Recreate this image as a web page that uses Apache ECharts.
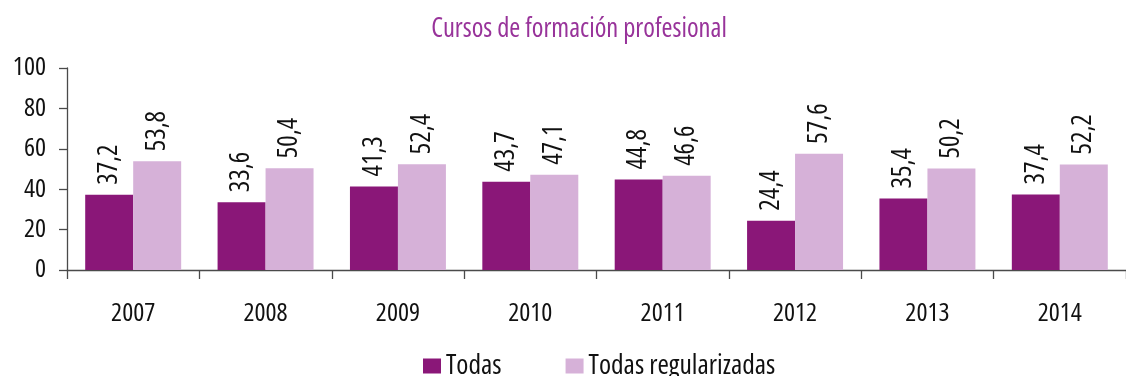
<!DOCTYPE html>
<html>
<head>
<meta charset="utf-8">
<script src="https://cdn.jsdelivr.net/npm/echarts@6/dist/echarts.min.js"></script>
<style>
  html, body { margin: 0; padding: 0; background: #fff; }
  #chart { width: 1126px; height: 376px; }
</style>
</head>
<body>
<div id="chart"></div>
<script>
// Cursos de formación profesional, 2007–2014
const years = ['2007', '2008', '2009', '2010', '2011', '2012', '2013', '2014'];
const todas = [37.2, 33.6, 41.3, 43.7, 44.8, 24.4, 35.4, 37.4];
const todasRegularizadas = [53.8, 50.4, 52.4, 47.1, 46.6, 57.6, 50.2, 52.2];
const yTicks = [0, 20, 40, 60, 80, 100];

// narrow type: ask for the condensed width of a family with a width axis
const FONT = '"Open Sans", sans-serif';
const STRETCH = 'condensed';
const comma = v => String(v).replace('.', ',');

const valueLabel = {
  show: true,
  position: 'top',
  rotate: 90,
  align: 'left',
  verticalAlign: 'middle',
  distance: 10,
  fontFamily: FONT,
  fontWeight: STRETCH,
  fontSize: 27,
  color: '#111',
  formatter: p => comma(p.value)
};

const chart = echarts.init(document.getElementById('chart'), null, { renderer: 'canvas' });
chart.setOption({
  animation: false,
  backgroundColor: '#fff',
  textStyle: { fontFamily: FONT, fontWeight: STRETCH },
  title: {
    text: 'Cursos de formación profesional',
    left: 574,
    top: 11,
    textAlign: 'center',
    textStyle: { fontFamily: FONT, fontSize: 26.5, fontWeight: STRETCH, color: '#98339a' }
  },
  legend: {
    top: 352,
    left: 423,
    padding: 0,
    itemWidth: 18,
    itemHeight: 15,
    itemGap: 64,
    icon: 'rect',
    textStyle: { fontFamily: FONT, fontWeight: STRETCH, fontSize: 27.5, lineHeight: 28, color: '#111' },
    data: ['Todas', 'Todas regularizadas']
  },
  grid: { left: 67, top: 68, width: 1072, height: 202 },
  xAxis: {
    type: 'category',
    data: years,
    axisLine: { show: true, lineStyle: { color: '#4a4a4a', width: 1.3 } },
    axisTick: { show: true, length: 9, alignWithLabel: false, lineStyle: { color: '#4a4a4a', width: 1.3 } },
    axisLabel: { fontFamily: FONT, fontWeight: STRETCH, fontSize: 26, color: '#111', margin: 31 }
  },
  yAxis: {
    type: 'value',
    min: yTicks[0],
    max: yTicks[yTicks.length - 1],
    interval: yTicks[1] - yTicks[0],
    splitLine: { show: false },
    axisLine: { show: true, lineStyle: { color: '#4a4a4a', width: 1.3 } },
    axisTick: { show: true, length: 8, lineStyle: { color: '#4a4a4a', width: 1.3 } },
    axisLabel: { fontFamily: FONT, fontWeight: STRETCH, fontSize: 26, color: '#111', margin: 21 }
  },
  series: [
    {
      name: 'Todas',
      type: 'bar',
      data: todas,
      barGap: '0%',
      barCategoryGap: '27.5%',
      itemStyle: { color: '#8a1778' },
      label: valueLabel
    },
    {
      name: 'Todas regularizadas',
      type: 'bar',
      data: todasRegularizadas,
      itemStyle: { color: '#d6b1d8' },
      label: valueLabel
    }
  ]
});
</script>
</body>
</html>
